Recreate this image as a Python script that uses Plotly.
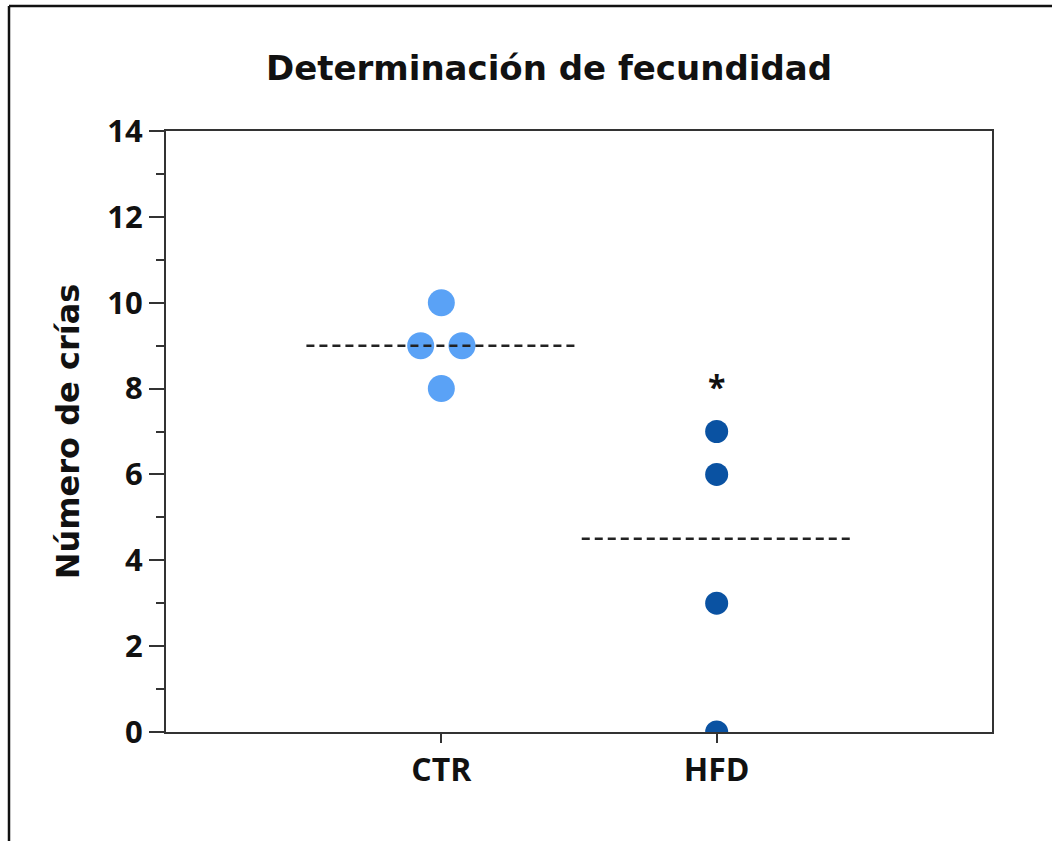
import numpy as np
import plotly.graph_objects as go

# ---- data ----
categories = ["CTR", "HFD"]
ctr_values = [10, 9, 9, 8]
hfd_values = [7, 6, 3, 0]
group_medians = [9, 4.5]
significance_label = "*"
significance_y = 8.05

title_text = "Determinación de fecundidad"
y_title = "Número de crías"
y_tickvals = [0, 2, 4, 6, 8, 10, 12, 14]

# ---- styling ----
FONT = "Open Sans"
FONT_WIDE = "DejaVu Sans"
colors = ["#5aa2f6", "#0a52a2"]
sizes = [27, 23]
spread = 0.075
half_width = 0.49


def swarm_offsets(vals, step):
    vals = list(vals)
    out = []
    for i, v in enumerate(vals):
        same = [j for j, w in enumerate(vals) if w == v]
        n = len(same)
        k = same.index(i)
        out.append((k - (n - 1) / 2) * 2 * step if n > 1 else 0.0)
    return out


fig = go.Figure()
for ci, (cat, vals) in enumerate(zip(categories, [ctr_values, hfd_values])):
    pos = ci + 1
    offs = swarm_offsets(vals, spread)
    xs = [pos + o for o in offs]
    fig.add_trace(go.Scatter(
        x=xs, y=vals, mode="markers",
        marker=dict(color=colors[ci], size=sizes[ci], line=dict(width=0)),
        showlegend=False, hoverinfo="y"))
    fig.add_trace(go.Scatter(
        x=[pos - half_width, pos + half_width],
        y=[group_medians[ci], group_medians[ci]],
        mode="lines", line=dict(color="#222222", width=2.5, dash="8px,5px"),
        showlegend=False, hoverinfo="skip"))

fig.add_annotation(x=2, y=significance_y, text="<b>" + significance_label + "</b>",
                   showarrow=False, xref="x", yref="y",
                   font=dict(family=FONT, size=32, color="#111111"),
                   yanchor="middle")

L, R, T, B = 166, 992, 131, 732
W, H = 1052, 841
pw, ph = R - L, B - T


def px_x(px):
    return (px - L) / pw


def px_y(py):
    return (B - py) / ph


# outer frame (top and left edges visible)
fig.add_shape(type="line", xref="paper", yref="paper",
              x0=px_x(9), x1=px_x(1070), y0=px_y(6), y1=px_y(6),
              line=dict(color="#111111", width=2.5))
fig.add_shape(type="line", xref="paper", yref="paper",
              x0=px_x(9), x1=px_x(9), y0=px_y(6), y1=px_y(860),
              line=dict(color="#111111", width=2.5))

fig.update_layout(
    width=W, height=H,
    margin=dict(l=L, r=W - R, t=T, b=H - B),
    paper_bgcolor="white", plot_bgcolor="white",
    font=dict(family=FONT, color="#111111"),
    title=dict(text="<b>" + title_text + "</b>", x=549 / W,
               xanchor="center", y=1 - 68 / H, yanchor="middle",
               font=dict(family=FONT_WIDE, size=34, color="#111111")),
)

fig.update_xaxes(
    range=[0, 3], tickvals=[1, 2], ticktext=["<b>" + c + "</b>" for c in categories],
    showgrid=False, zeroline=False, showline=True, linecolor="#333333", linewidth=2,
    mirror=True, ticks="outside", ticklen=9, tickwidth=1.5, tickcolor="#333333",
    tickfont=dict(family=FONT, size=32, color="#111111"),
)
fig.update_yaxes(
    range=[0, 14], tickvals=y_tickvals,
    ticktext=["<b>%d</b>" % v for v in y_tickvals],
    showgrid=False, zeroline=False, showline=True, linecolor="#333333", linewidth=2,
    mirror=True, ticks="outside", ticklen=15, tickwidth=2, tickcolor="#333333",
    tickfont=dict(family=FONT, size=31, color="#111111"),
    minor=dict(dtick=1, ticks="outside", ticklen=8, tickwidth=1.5, tickcolor="#333333"),
    title=dict(text="<b>" + y_title + "</b>", standoff=18,
               font=dict(family=FONT_WIDE, size=32, color="#111111")),
)

fig.write_html("out.html")
